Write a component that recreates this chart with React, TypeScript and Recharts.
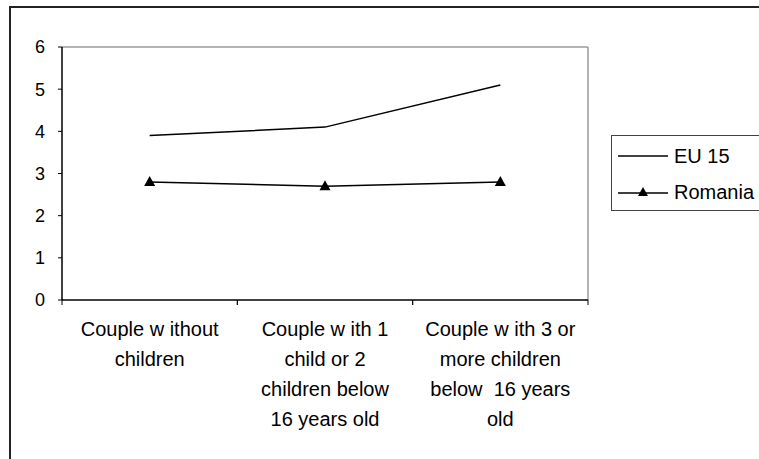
import React from "react";
import { LineChart, Line, XAxis, YAxis, CartesianGrid } from "recharts";

// household types (line breaks as they appear under the axis)
const categories = [
  "Couple w ithout\nchildren",
  "Couple w ith 1\nchild or 2\nchildren below\n16 years old",
  "Couple w ith 3 or\nmore children\nbelow  16 years\nold",
];
const eu15 = [3.9, 4.1, 5.1];
const romania = [2.8, 2.7, 2.8];
const yTicks = [0, 1, 2, 3, 4, 5, 6];

const seriesNames = { eu: "EU 15", ro: "Romania" };

const data = categories.map((c, i) => ({ name: c, eu: eu15[i], ro: romania[i] }));

const font = "'Liberation Sans', Arial, sans-serif";

const Triangle = (props: any) => {
  const { cx, cy } = props;
  if (cx == null || cy == null) return null;
  return <polygon points={`${cx},${cy - 6} ${cx + 5.5},${cy + 4} ${cx - 5.5},${cy + 4}`} fill="#000" />;
};

// label + tick marks on the band edges
const CategoryTick = (props: any) => {
  const { x, y, payload } = props;
  const half = payload.offset || 0;
  const lines = String(payload.value).split("\n");
  return (
    <g>
      <line x1={x - half} y1={y} x2={x - half} y2={y + 5} stroke="#000" />
      <line x1={x + half} y1={y} x2={x + half} y2={y + 5} stroke="#000" />
      <text x={x} y={y} textAnchor="middle" fontSize={20} fontFamily={font} fill="#000" style={{ whiteSpace: "pre" }}>
        {lines.map((l, i) => (
          <tspan key={i} x={x} dy={i === 0 ? 36 : 30}>
            {l}
          </tspan>
        ))}
      </text>
    </g>
  );
};

const LegendBox = () => (
  <div
    style={{
      width: 160,
      height: 74,
      border: "1px solid #444",
      background: "#fff",
      fontFamily: font,
      fontSize: 20,
      color: "#000",
    }}
  >
    <div style={{ display: "flex", alignItems: "center", height: 36, marginTop: 2 }}>
      <svg width={62} height={20}>
        <line x1={6} y1={10} x2={56} y2={10} stroke="#000" strokeWidth={1.5} />
      </svg>
      <span>{seriesNames.eu}</span>
    </div>
    <div style={{ display: "flex", alignItems: "center", height: 36 }}>
      <svg width={62} height={20}>
        <line x1={6} y1={11} x2={56} y2={11} stroke="#000" strokeWidth={1.5} />
        <polygon points="31,5 36,14 26,14" fill="#000" />
      </svg>
      <span>{seriesNames.ro}</span>
    </div>
  </div>
);

export default function App() {
  return (
    <div style={{ position: "absolute", left: 0, top: 0, width: 759, height: 459, overflow: "hidden", background: "#fff" }}>
      <div
        style={{
          position: "absolute",
          left: 9,
          top: 6,
          width: 800,
          height: 500,
          border: "2px solid #222",
        }}
      />
      <div style={{ position: "absolute", left: 0, top: 0 }}>
        <LineChart width={759} height={459} data={data} margin={{ top: 47, right: 171, bottom: 29, left: 12 }}>
          <CartesianGrid
            stroke="#9a9a9a"
            strokeWidth={1.5}
            horizontalCoordinatesGenerator={(p: any) => [p.offset.top]}
            verticalCoordinatesGenerator={(p: any) => [p.offset.left + p.offset.width]}
          />
          <XAxis
            dataKey="name"
            scale="band"
            interval={0}
            tick={<CategoryTick />}
            tickLine={false}
            tickSize={0}
            tickMargin={0}
            height={130}
            axisLine={{ stroke: "#000", strokeWidth: 1.5 }}
          />
          <YAxis
            domain={[0, 6]}
            ticks={yTicks}
            width={50}
            tickSize={4}
            tickMargin={13}
            tick={{ fontSize: 18, fontFamily: font, fill: "#000" }}
            axisLine={{ stroke: "#000", strokeWidth: 1.5 }}
            tickLine={{ stroke: "#000" }}
          />
          <Line dataKey="eu" name={seriesNames.eu} stroke="#000" strokeWidth={1.5} dot={false} isAnimationActive={false} />
          <Line dataKey="ro" name={seriesNames.ro} stroke="#000" strokeWidth={1.5} dot={<Triangle />} isAnimationActive={false} />
        </LineChart>
      </div>
      <div style={{ position: "absolute", left: 611, top: 135 }}>
        <LegendBox />
      </div>
    </div>
  );
}
